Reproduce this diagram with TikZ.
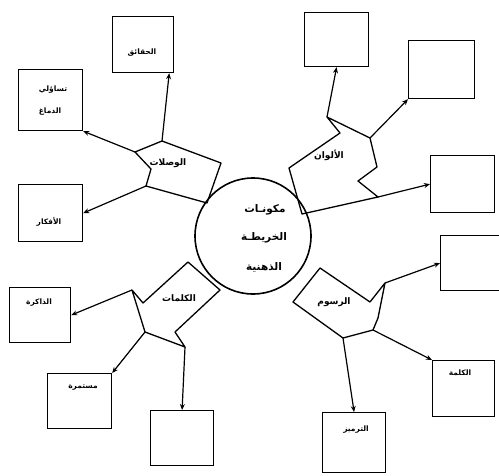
\documentclass[tikz,border=0pt]{standalone}
\usepackage{fontspec}
\newfontfamily\arabicfont[Script=Arabic]{DejaVu Sans}
\TeXXeTstate=1
\usetikzlibrary{arrows.meta}
\newcommand{\artx}[1]{{\arabicfont\beginR #1\endR}}
\begin{document}
\begin{tikzpicture}[x=1pt,y=-1pt,
  line width=1.2pt,
  box/.style={draw, line width=1.2pt, anchor=north west, inner sep=0pt, minimum width=63pt, minimum height=56pt},
  lbl/.style={font=\arabicfont\fontsize{7.5}{8}\selectfont\bfseries, inner sep=0pt},
  branch/.style={draw, line width=1.3pt, line join=round},
  blbl/.style={font=\arabicfont\fontsize{9}{10}\selectfont\bfseries, inner sep=0pt},
  ctr/.style={font=\arabicfont\fontsize{10.5}{11}\selectfont\bfseries, inner sep=0pt},
  arr/.style={draw, line width=1.2pt, -{Stealth[length=6pt,width=5pt]}}
]
\useasboundingbox (0,0) rectangle (499,475);

% central circle
\node[draw, circle, line width=1.6pt, minimum size=116pt, inner sep=0pt] (c) at (253,236) {};
\node[ctr] (c1) at (265,210) {\artx{مكونـات}};
\node[ctr] (c2) at (264,238) {\artx{الخريطـة}};
\node[ctr] (c3) at (264,267) {\artx{الذهنية}};

% boxes
\node[box, minimum width=61pt] (b1) at (112,16) {};
\node[box, minimum width=64pt, minimum height=61pt] (b2) at (18,69) {};
\node[box, minimum width=64pt, minimum height=57pt] (b3) at (18,184) {};
\node[box, minimum width=61pt, minimum height=55pt] (b4) at (9,287) {};
\node[box, minimum width=64pt, minimum height=55pt] (b5) at (47,373) {};
\node[box, minimum width=63pt, minimum height=55pt] (b6) at (150,410) {};
\node[box, minimum width=63pt, minimum height=60pt] (b7) at (322,412) {};
\node[box, minimum width=62pt, minimum height=56pt] (b8) at (432,360) {};
\node[box, minimum width=62pt, minimum height=55pt] (b9) at (440,235) {};
\node[box, minimum width=64pt, minimum height=57pt] (b10) at (430,155) {};
\node[box, minimum width=66pt, minimum height=58pt] (b11) at (408,40) {};
\node[box, minimum width=64pt, minimum height=54pt] (b12) at (304,12) {};

% box labels
\node[lbl] (t1) at (142,53) {\artx{الحقائق}};
\node[lbl] (t2a) at (53,90) {\artx{تساؤلي}};
\node[lbl] (t2b) at (50,112) {\artx{الدماغ}};
\node[lbl] (t3) at (49,222) {\artx{الأفكار}};
\node[lbl] (t4) at (39,303) {\artx{الذاكرة}};
\node[lbl] (t5) at (83,387) {\artx{مستمرة}};
\node[lbl] (t7) at (356,430) {\artx{الترميز}};
\node[lbl] (t8) at (460,373) {\artx{الكلمة}};

% branch shapes
\draw[branch] (135,152) -- (162,141) -- (221,163) -- (207,203) -- (146,186) -- (151,169) -- cycle;
\coordinate (l1) at (162,141);
\coordinate (l2) at (135,152);
\coordinate (l3) at (146,186);
\node[blbl] (tl) at (168,163) {\artx{الوصلات}};

\draw[branch] (289,168) -- (340,133) -- (327,117) -- (370,138) -- (377,167) -- (358,181) -- (378,197) -- (302,214) -- cycle;
\coordinate (a1) at (327,117);
\coordinate (a2) at (370,138);
\coordinate (a3) at (378,197);
\node[blbl] (ta) at (329,155) {\artx{الألوان}};

\draw[branch] (188,262) -- (220,290) -- (175,332) -- (185,347) -- (145,332) -- (132,290) -- (143,303) -- cycle;
\coordinate (w1) at (132,290);
\coordinate (w2) at (145,332);
\coordinate (w3) at (185,347);
\node[blbl] (tw) at (179,298) {\artx{الكلمات}};

\draw[branch] (320,268) -- (370,302) -- (385,283) -- (378,318) -- (373,330) -- (343,338) -- (293,302) -- cycle;
\coordinate (r1) at (385,283);
\coordinate (r2) at (373,330);
\coordinate (r3) at (343,338);
\node[blbl] (tr) at (334,302) {\artx{الرسوم}};

% arrows
\draw[arr] (l1) -- ([xshift=-5pt]b1.south east);
\draw[arr] (l2) -- (b2.south east);
\draw[arr] (l3) -- (b3.east);
\draw[arr] (a1) -- (b12.south);
\draw[arr] (a2) -- (b11.south west);
\draw[arr] (a3) -- (b10.west);
\draw[arr] (w1) -- (b4.east);
\draw[arr] (w2) -- (b5.north east);
\draw[arr] (w3) -- (b6.north);
\draw[arr] (r1) -- (b9.west);
\draw[arr] (r2) -- (b8.north west);
\draw[arr] (r3) -- (b7.north);
\end{tikzpicture}
\end{document}
